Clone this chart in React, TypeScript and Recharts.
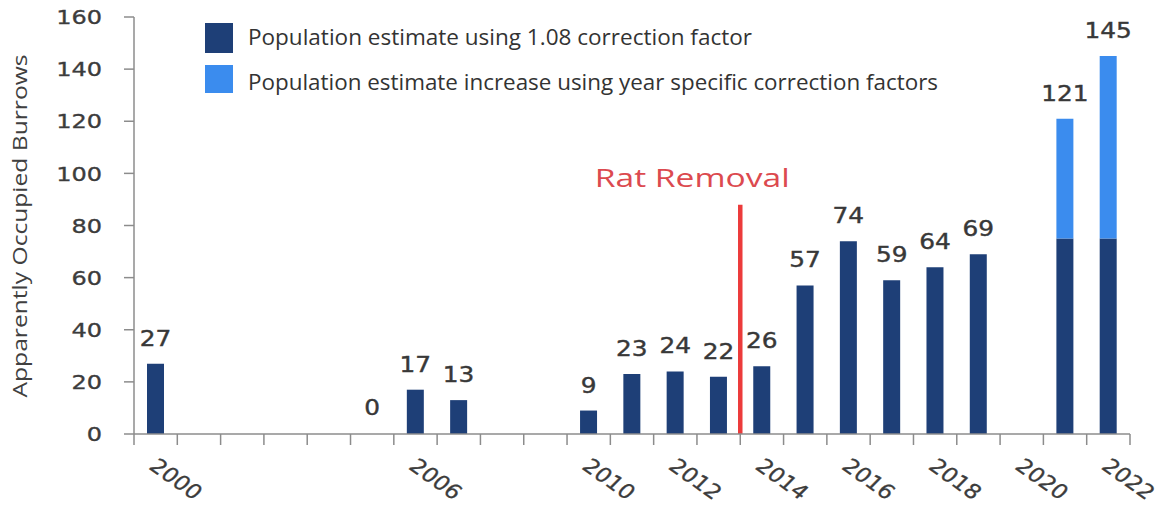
import React from 'react';
import { BarChart, Bar, XAxis, YAxis, LabelList, Legend, ReferenceLine, Rectangle } from 'recharts';

// one entry per survey year on the category axis
const YEARS = [
  2000, 2001, 2002, 2003, 2004, 2005, 2006, 2007, 2008, 2009, 2010, 2011,
  2012, 2013, 2014, 2015, 2016, 2017, 2018, 2019, 2020, 2021, 2022,
];
// population estimate using the 1.08 correction factor
const BASE = [
  27, null, null, null, null, 0, 17, 13, null, null, 9, 23,
  24, 22, 26, 57, 74, 59, 64, 69, null, 75, 75,
];
// increase when using year specific correction factors
const INCREASE = [
  0, null, null, null, null, 0, 0, 0, null, null, 0, 0,
  0, 0, 0, 0, 0, 0, 0, 0, null, 46, 70,
];
// numbers printed above the bars
const TOTAL_LABELS = [
  27, null, null, null, null, 0, 17, 13, null, null, 9, 23,
  24, 22, 26, 57, 74, 59, 64, 69, null, 121, 145,
];
const YEAR_LABELS = [2000, 2006, 2010, 2012, 2014, 2016, 2018, 2020, 2022];
const Y_TICKS = [0, 20, 40, 60, 80, 100, 120, 140, 160];

const SERIES = [
  { key: 'base', name: 'Population estimate using 1.08 correction factor', color: '#1e3f77' },
  { key: 'increase', name: 'Population estimate increase using year specific correction factors', color: '#3b8cee' },
];

const RAT_REMOVAL_YEAR = 2014;
const RAT_REMOVAL_TOP = 88;

const data = YEARS.map((year, i) => {
  const hasIncrease = (INCREASE[i] as number) > 0;
  return {
    year,
    base: BASE[i],
    increase: INCREASE[i],
    // the label goes on whichever segment is on top
    baseLabel: hasIncrease ? null : TOTAL_LABELS[i],
    increaseLabel: hasIncrease ? TOTAL_LABELS[i] : null,
  };
});

const NUM_FONT = '"DejaVu Sans", Verdana, sans-serif';
const TEXT_FONT = '"Open Sans", "Liberation Sans", sans-serif';
const AXIS_COLOR = '#8c8c8c';

const YTick = (props: any) => {
  const { x, y, payload } = props;
  return (
    <g transform={`translate(${x},${y}) scale(1.2,1)`}>
      <text x={0} y={0} dy="0.36em" textAnchor="end" fontFamily={NUM_FONT} fontSize={20} fill="#3c3c3c" stroke="#3c3c3c" strokeWidth={0.35}>
        {payload.value}
      </text>
    </g>
  );
};

const XTick = (props: any) => {
  const { x, y, payload, index } = props;
  const half = payload.offset || 21.65;
  const isLast = index === YEARS.length - 1;
  return (
    <g>
      <line x1={x - half} x2={x - half} y1={y} y2={y + 11} stroke={AXIS_COLOR} strokeWidth={1.5} />
      {isLast && <line x1={x + half} x2={x + half} y1={y} y2={y + 11} stroke={AXIS_COLOR} strokeWidth={1.5} />}
      {YEAR_LABELS.includes(payload.value) && (
        <text
          transform={`translate(${x - 8},${y + 34}) scale(1.18,1) rotate(40)`}
          textAnchor="start"
          fontFamily={NUM_FONT}
          fontSize={20}
          fill="#3c3c3c"
          stroke="#3c3c3c"
          strokeWidth={0.3}
        >
          {payload.value}
        </text>
      )}
    </g>
  );
};

const ValueLabel = (props: any) => {
  const { x, y, width, value } = props;
  if (value === null || value === undefined) return null;
  return (
    <g transform={`translate(${x + width / 2},${y - 18}) scale(1.18,1)`}>
      <text x={0} y={0} textAnchor="middle" fontFamily={NUM_FONT} fontSize={21} fill="#383838" stroke="#383838" strokeWidth={0.4}>
        {value}
      </text>
    </g>
  );
};

// zero-valued years keep a (hidden) bar so their "0" label is still placed
const BaseShape = (props: any) => {
  if (!props.payload || !(props.payload.base > 0)) return null;
  return <Rectangle {...props} />;
};

const YTitle = () => (
  <text
    transform="translate(27,226) rotate(-90)"
    textAnchor="middle"
    textLength={343}
    lengthAdjust="spacingAndGlyphs"
    fontFamily={TEXT_FONT}
    fontSize={20}
    fill="#404040"
  >
    Apparently Occupied Burrows
  </text>
);

const RatLabel = (props: any) => {
  const { viewBox } = props;
  return (
    <text
      x={viewBox.x - 48}
      y={viewBox.y - 18}
      textAnchor="middle"
      textLength={195}
      lengthAdjust="spacingAndGlyphs"
      fontFamily={TEXT_FONT}
      fontSize={26}
      fill="#dc4a4f"
    >
      Rat Removal
    </text>
  );
};

const LEGEND_ROWS = [
  { boxY: 3, boxH: 30, textY: 25, textLen: 504 },
  { boxY: 45, boxH: 28, textY: 70, textLen: 690 },
];

const renderLegend = (props: any) => {
  const payload = props.payload || [];
  return (
    <svg width={760} height={80}>
      {SERIES.map((s, i) => {
        const item = payload.find((p: any) => p.dataKey === s.key);
        const row = LEGEND_ROWS[i];
        return (
          <g key={s.key}>
            <rect x={0} y={row.boxY} width={28} height={row.boxH} fill={item ? item.color : s.color} />
            <text
              x={43}
              y={row.textY}
              textLength={row.textLen}
              lengthAdjust="spacingAndGlyphs"
              fontFamily={TEXT_FONT}
              fontSize={21}
              fill="#333333"
            >
              {s.name}
            </text>
          </g>
        );
      })}
    </svg>
  );
};

export default function App() {
  return (
    <div style={{ position: 'absolute', left: 0, top: 0, width: 1162, height: 507, background: '#ffffff' }}>
      <BarChart width={1162} height={507} data={data} margin={{ top: 17, right: 32, bottom: 0, left: 0 }}>
        <XAxis
          dataKey="year"
          type="category"
          interval={0}
          height={73}
          tickLine={false}
          tickSize={0}
          tickMargin={0}
          axisLine={{ stroke: AXIS_COLOR, strokeWidth: 1.5 }}
          tick={XTick}
        />
        <YAxis
          width={134}
          domain={[0, 160]}
          ticks={Y_TICKS}
          interval={0}
          tickSize={10}
          tickMargin={22}
          axisLine={{ stroke: AXIS_COLOR, strokeWidth: 1.5 }}
          tickLine={{ stroke: AXIS_COLOR, strokeWidth: 1.5 }}
          tick={YTick}
          label={YTitle}
        />
        <Legend
          layout="horizontal"
          verticalAlign="middle"
          align="center"
          wrapperStyle={{ top: 20, left: 205, width: 760, height: 80 }}
          content={renderLegend}
        />
        <Bar
          dataKey="base"
          name={SERIES[0].name}
          stackId="a"
          fill={SERIES[0].color}
          barSize={17}
          minPointSize={1}
          shape={BaseShape}
          isAnimationActive={false}
        >
          <LabelList dataKey="baseLabel" content={ValueLabel} />
        </Bar>
        <Bar dataKey="increase" name={SERIES[1].name} stackId="a" fill={SERIES[1].color} barSize={17} isAnimationActive={false}>
          <LabelList dataKey="increaseLabel" content={ValueLabel} />
        </Bar>
        <ReferenceLine
          segment={[
            { x: RAT_REMOVAL_YEAR, y: 0 },
            { x: RAT_REMOVAL_YEAR, y: RAT_REMOVAL_TOP },
          ]}
          position="start"
          stroke="#ec3b3b"
          strokeWidth={4.5}
          label={RatLabel}
        />
      </BarChart>
    </div>
  );
}
